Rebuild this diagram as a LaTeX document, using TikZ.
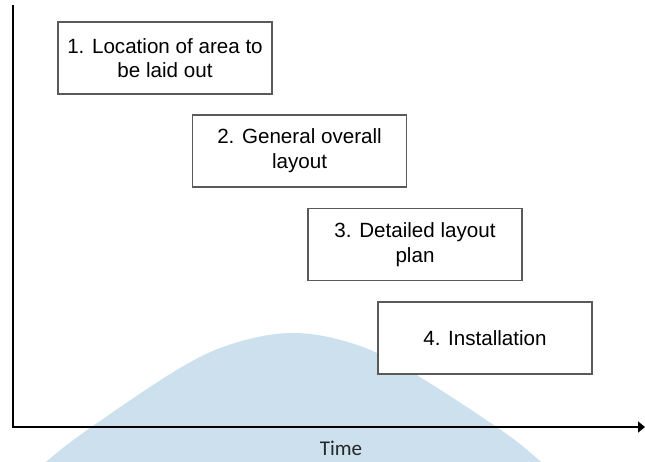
\documentclass[tikz,border=0pt]{standalone}
\usepackage{fontspec}
\setmainfont{Liberation Sans}
\newfontfamily\timefont{Carlito}
\usetikzlibrary{arrows.meta}
\definecolor{bellblue}{RGB}{204,224,237}
\definecolor{boxline}{RGB}{90,90,90}
\tikzset{
  stagebox/.style={draw=boxline, line width=1.2pt, fill=white, rectangle,
    minimum width=214pt, minimum height=72pt, inner sep=0pt, align=center,
    font=\fontsize{20.6}{24.7}\selectfont},
  axisline/.style={line width=2pt, black},
  axislabel/.style={font=\timefont\fontsize{21}{25}\selectfont, text=black!85}
}
\begin{document}
\begin{tikzpicture}[x=1pt, y=-1pt]
\useasboundingbox (0,0) rectangle (645,461);
\begin{scope}
  \clip (0,0) rectangle (645,461);
  \fill[bellblue] plot[smooth, tension=0.6] coordinates {(10,495) (47,461) (90,428) (180,368) (235,343) (293,333) (351,343) (405,368) (498,428) (540,461) (575,495)} -- cycle;
\end{scope}
\node[stagebox] (s1) at (165,58) {1. Location of area to\\be laid out};
\node[stagebox] (s2) at (299.5,151) {2. General overall\\layout};
\node[stagebox] (s3) at (415,244.5) {3. Detailed layout\\plan};
\node[stagebox] (s4) at (485,338) {4. Installation};
\coordinate (ytop) at (13,5);
\coordinate (orig) at (13,427);
\coordinate (xend) at (645,427);
\draw[axisline, -{Stealth[length=7pt, width=11pt, inset=0pt]}] (ytop) -- (orig) -- (xend);
\node[axislabel] (time) at (341,448) {Time};
\end{tikzpicture}
\end{document}
